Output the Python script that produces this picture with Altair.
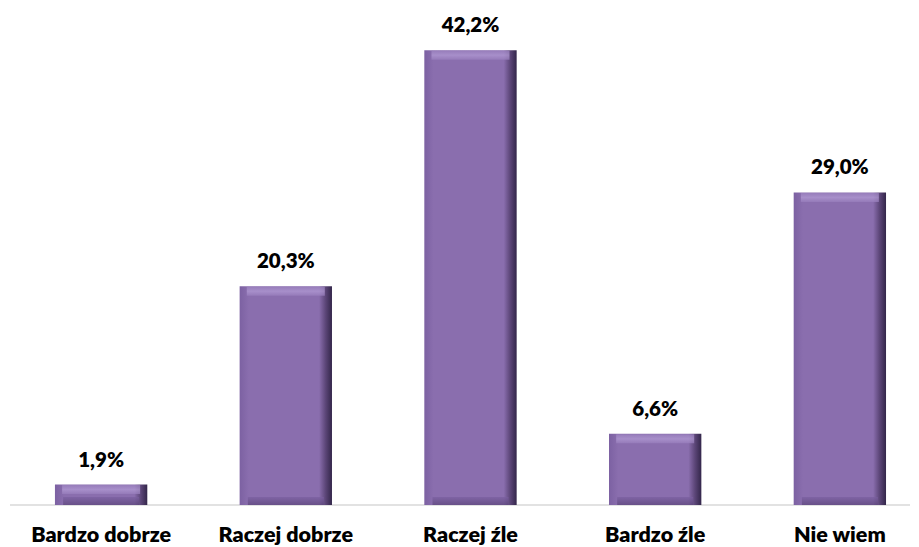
import altair as alt
import pandas as pd

categories = ["Bardzo dobrze", "Raczej dobrze", "Raczej źle", "Bardzo źle", "Nie wiem"]
values = [1.9, 20.3, 42.2, 6.6, 29.0]
labels = ["1,9%", "20,3%", "42,2%", "6,6%", "29,0%"]

df = pd.DataFrame({"cat": categories, "val": values, "lab": labels})

FONT = "Lato"
YSCALE = alt.Scale(domain=[0, 45], nice=False)
W, H = 902, 485

x = alt.X(
    "cat:N",
    sort=categories,
    scale=alt.Scale(paddingInner=0.5, paddingOuter=0.192, align=0.662),
    axis=alt.Axis(
        title=None,
        labelAngle=0,
        labelFont=FONT,
        labelFontSize=21.5,
        labelFontWeight=800,
        labelColor="#000000",
        labelBaseline="alphabetic",
        labelPadding=36,
        ticks=False,
        grid=False,
        domain=False,
    ),
)
y = alt.Y("val:Q", scale=YSCALE, axis=None)

base = alt.Chart(df)

baseline = alt.Chart(pd.DataFrame({"z": [0]})).mark_rule(
    color="#d9d9d9", strokeWidth=1.5
).encode(
    x=alt.value(2), x2=alt.value(W), y=alt.Y("z:Q", scale=YSCALE, axis=None)
)

main = base.mark_bar(
    color=alt.Gradient(
        gradient="linear",
        x1=0, x2=1, y1=0, y2=0,
        stops=[
            alt.GradientStop(offset=0, color="#7C61A2"),
            alt.GradientStop(offset=0.1, color="#8A6EAE"),
            alt.GradientStop(offset=0.86, color="#8A6EAE"),
            alt.GradientStop(offset=0.93, color="#5C4678"),
            alt.GradientStop(offset=1, color="#33264A"),
        ],
    )
).encode(x=x, y=y)

top_cap = base.mark_tick(
    orient="horizontal",
    size=78,
    thickness=9,
    yOffset=5,
    color=alt.Gradient(
        gradient="linear",
        x1=0, x2=0, y1=0, y2=1,
        stops=[
            alt.GradientStop(offset=0, color="#9C83C0"),
            alt.GradientStop(offset=0.5, color="#B49DD6"),
            alt.GradientStop(offset=1, color="#9A80BE"),
        ],
    ),
).encode(x=x, y=y)

bottom_cap = base.mark_tick(
    orient="horizontal",
    size=76,
    thickness=8,
    yOffset=-4,
    color=alt.Gradient(
        gradient="linear",
        x1=0, x2=0, y1=0, y2=1,
        stops=[
            alt.GradientStop(offset=0, color="#7A5FA0"),
            alt.GradientStop(offset=1, color="#5A4478"),
        ],
    ),
).encode(x=x, y=alt.Y("zero:Q", scale=YSCALE, axis=None)).transform_calculate(zero="0")

text = base.mark_text(
    font=FONT,
    fontSize=20.5,
    fontWeight=800,
    color="#000000",
    baseline="alphabetic",
    dy=-18,
).encode(x=x, y=y, text="lab:N")

chart = (
    alt.layer(baseline, main, top_cap, bottom_cap, text)
    .properties(
        width=W,
        height=H,
        background="#ffffff",
        padding={"left": 0, "top": 12, "right": 0, "bottom": 42},
        autosize=alt.AutoSizeParams(type="none"),
    )
    .configure_view(strokeWidth=0, stroke="transparent")
    .configure_axis(grid=False, domain=False)
)

chart.save("out.html", embed_options={"renderer": "svg", "actions": False})
